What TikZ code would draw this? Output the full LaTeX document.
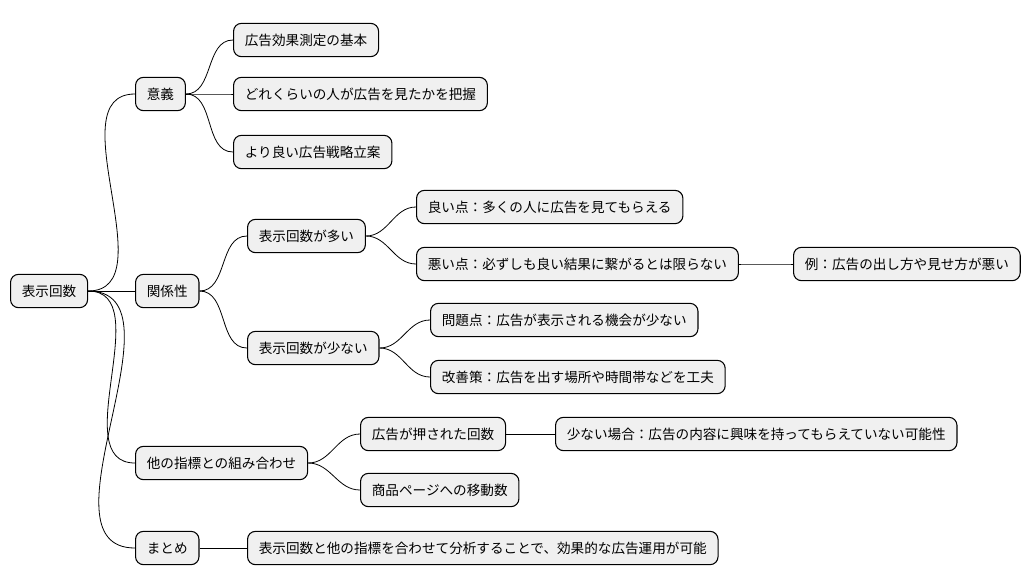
\documentclass[tikz,border=0pt]{standalone}
\usepackage{fontspec}
\setmainfont{Noto Sans CJK JP}
\begin{document}
\begin{tikzpicture}[x=0.75pt,y=-0.75pt,
  box/.style={draw=black,line width=0.8pt,fill=black!6,rounded corners=6pt,anchor=west,minimum height=25pt,inner xsep=8.5pt,font=\fontsize{10.2pt}{12pt}\selectfont},
  con/.style={draw=black,line width=0.6pt}]
\useasboundingbox (0,0) rectangle (1034,583);
\node[box] (r) at (10,291) {表示回数};
\node[box] (a) at (135,94) {意義};
\node[box] (a1) at (233,40) {広告効果測定の基本};
\node[box] (a2) at (233,94) {どれくらいの人が広告を見たかを把握};
\node[box] (a3) at (233,152) {より良い広告戦略立案};
\node[box] (b) at (135,291) {関係性};
\node[box] (b1) at (247,236) {表示回数が多い};
\node[box] (b11) at (416,207) {良い点：多くの人に広告を見てもらえる};
\node[box] (b12) at (416,264) {悪い点：必ずしも良い結果に繋がるとは限らない};
\node[box] (b121) at (793,264) {例：広告の出し方や見せ方が悪い};
\node[box] (b2) at (247,348) {表示回数が少ない};
\node[box] (b21) at (430,320) {問題点：広告が表示される機会が少ない};
\node[box] (b22) at (430,377) {改善策：広告を出す場所や時間帯などを工夫};
\node[box] (c) at (135,463) {他の指標との組み合わせ};
\node[box] (c1) at (360,434) {広告が押された回数};
\node[box] (c11) at (555,434) {少ない場合：広告の内容に興味を持ってもらえていない可能性};
\node[box] (c2) at (360,490) {商品ページへの移動数};
\node[box] (d) at (135,548) {まとめ};
\node[box] (d1) at (247,548) {表示回数と他の指標を合わせて分析することで、効果的な広告運用が可能};
\foreach \p/\c in {r/a,r/b,r/c,r/d,a/a1,a/a2,a/a3,b/b1,b/b2,b1/b11,b1/b12,b12/b121,b2/b21,b2/b22,c/c1,c/c2,c1/c11,d/d1}
  \draw[con] (\p.east) to[out=0,in=180] (\c.west);
\end{tikzpicture}
\end{document}
